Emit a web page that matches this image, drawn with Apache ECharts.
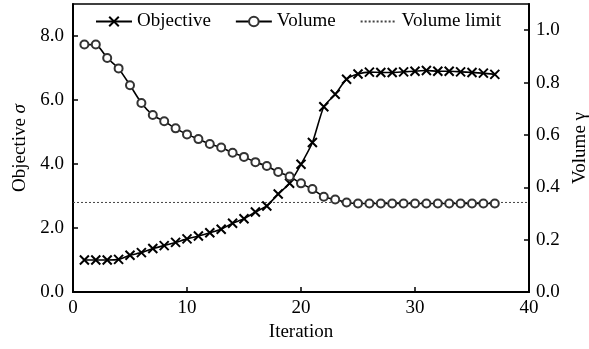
<!DOCTYPE html>
<html>
<head>
<meta charset="utf-8">
<script src="https://cdn.jsdelivr.net/npm/echarts@6/dist/echarts.min.js"></script>
<style>
  html, body { margin: 0; padding: 0; background: #fff; }
  #chart { width: 589px; height: 349px; }
</style>
</head>
<body>
<div id="chart"></div>
<script>
// iteration numbers
var iterations = [1, 2, 3, 4, 5, 6, 7, 8, 9, 10, 11, 12, 13, 14, 15, 16, 17, 18, 19, 20,
  21, 22, 23, 24, 25, 26, 27, 28, 29, 30, 31, 32, 33, 34, 35, 36, 37]
// objective sigma (left axis)
var objective = [1.0, 1.0, 1.0, 1.02, 1.15, 1.23, 1.36, 1.45, 1.55, 1.66,
  1.75, 1.85, 1.96, 2.15, 2.29, 2.5, 2.69, 3.06, 3.4, 3.99,
  4.67, 5.79, 6.18, 6.65, 6.81, 6.87, 6.86, 6.86, 6.88, 6.9,
  6.92, 6.9, 6.9, 6.88, 6.86, 6.84, 6.8]
// volume gamma (right axis)
var volume = [0.945, 0.945, 0.894, 0.854, 0.79, 0.722, 0.676, 0.652, 0.625, 0.602,
  0.584, 0.565, 0.552, 0.532, 0.516, 0.496, 0.481, 0.458, 0.441, 0.415,
  0.393, 0.364, 0.353, 0.342, 0.338, 0.338, 0.338, 0.338, 0.338, 0.338,
  0.338, 0.338, 0.338, 0.338, 0.338, 0.338, 0.338]
// volume limit line, drawn across the whole x range
var limitX = [0, 40]
var limitValue = 0.342

var font = 'Liberation Serif'
var crossPath = 'path://M0,0L10,10M10,0L0,10'

function pairs(xs, ys) {
  return xs.map(function (x, i) { return [x, ys[i]] })
}

var chart = echarts.init(document.getElementById('chart'))
chart.setOption({
  animation: false,
  textStyle: { fontFamily: font, color: '#000' },
  grid: {
    left: 73,
    right: 60,
    top: 4,
    bottom: 57,
    containLabel: false,
    outerBoundsMode: 'none',
    show: true,
    borderColor: '#000',
    borderWidth: 1.5
  },
  legend: {
    left: 90,
    top: 7,
    itemWidth: 36,
    itemHeight: 12,
    itemGap: 24,
    textStyle: { fontFamily: font, fontSize: 19, color: '#000' },
    data: ['Objective', 'Volume', { name: 'Volume limit', itemStyle: { opacity: 0 } }]
  },
  xAxis: {
    type: 'value',
    min: 0,
    max: 40,
    interval: 10,
    name: 'Iteration',
    nameLocation: 'middle',
    nameGap: 25,
    nameTextStyle: { fontFamily: font, fontSize: 19, color: '#000' },
    axisLine: { lineStyle: { color: '#000', width: 2 } },
    axisTick: { inside: true, length: 5, lineStyle: { color: '#000', width: 1.5 } },
    axisLabel: { fontFamily: font, fontSize: 19, color: '#000', margin: 7 },
    splitLine: { show: false }
  },
  yAxis: [{
    type: 'value',
    min: 0,
    max: 9,
    interval: 2,
    name: 'Objective {i|σ}',
    nameLocation: 'middle',
    nameRotate: 90,
    nameGap: 36,
    nameTextStyle: {
      fontFamily: font, fontSize: 19, color: '#000',
      rich: { i: { fontFamily: font, fontSize: 19, fontStyle: 'italic', color: '#000' } }
    },
    axisLine: { show: true, lineStyle: { color: '#000', width: 2 } },
    axisTick: { inside: true, length: 5, lineStyle: { color: '#000', width: 1.5 } },
    axisLabel: {
      fontFamily: font, fontSize: 19, color: '#000', margin: 9, showMaxLabel: false,
      formatter: function (v) { return v.toFixed(1) }
    },
    splitLine: { show: false }
  }, {
    type: 'value',
    min: 0,
    max: 1.1,
    interval: 0.2,
    position: 'right',
    name: 'Volume γ',
    nameLocation: 'middle',
    nameRotate: 90,
    nameGap: 38,
    nameTextStyle: { fontFamily: font, fontSize: 19, color: '#000' },
    axisLine: { show: true, lineStyle: { color: '#000', width: 2 } },
    axisTick: { inside: true, length: 5, lineStyle: { color: '#000', width: 1.5 } },
    axisLabel: {
      fontFamily: font, fontSize: 19, color: '#000', margin: 7, showMaxLabel: false,
      formatter: function (v) { return v.toFixed(1) }
    },
    splitLine: { show: false }
  }],
  series: [{
    name: 'Objective',
    type: 'line',
    yAxisIndex: 0,
    smooth: 0.2,
    data: pairs(iterations, objective),
    symbol: crossPath,
    symbolSize: 9,
    lineStyle: { color: '#000', width: 1.6 },
    itemStyle: { color: '#000', borderColor: '#000', borderWidth: 2 },
    z: 3
  }, {
    name: 'Volume',
    type: 'line',
    yAxisIndex: 1,
    smooth: 0.2,
    data: pairs(iterations, volume),
    symbol: 'emptyCircle',
    symbolSize: 8,
    lineStyle: { color: '#000', width: 1.6 },
    itemStyle: { color: '#333', borderColor: '#333', borderWidth: 1.6 },
    z: 4
  }, {
    name: 'Volume limit',
    type: 'line',
    yAxisIndex: 1,
    data: pairs(limitX, [limitValue, limitValue]),
    symbol: 'none',
    lineStyle: { color: '#444', width: 1, type: [2, 2] },
    itemStyle: { color: '#444' },
    z: 2
  }]
})
</script>
</body>
</html>
